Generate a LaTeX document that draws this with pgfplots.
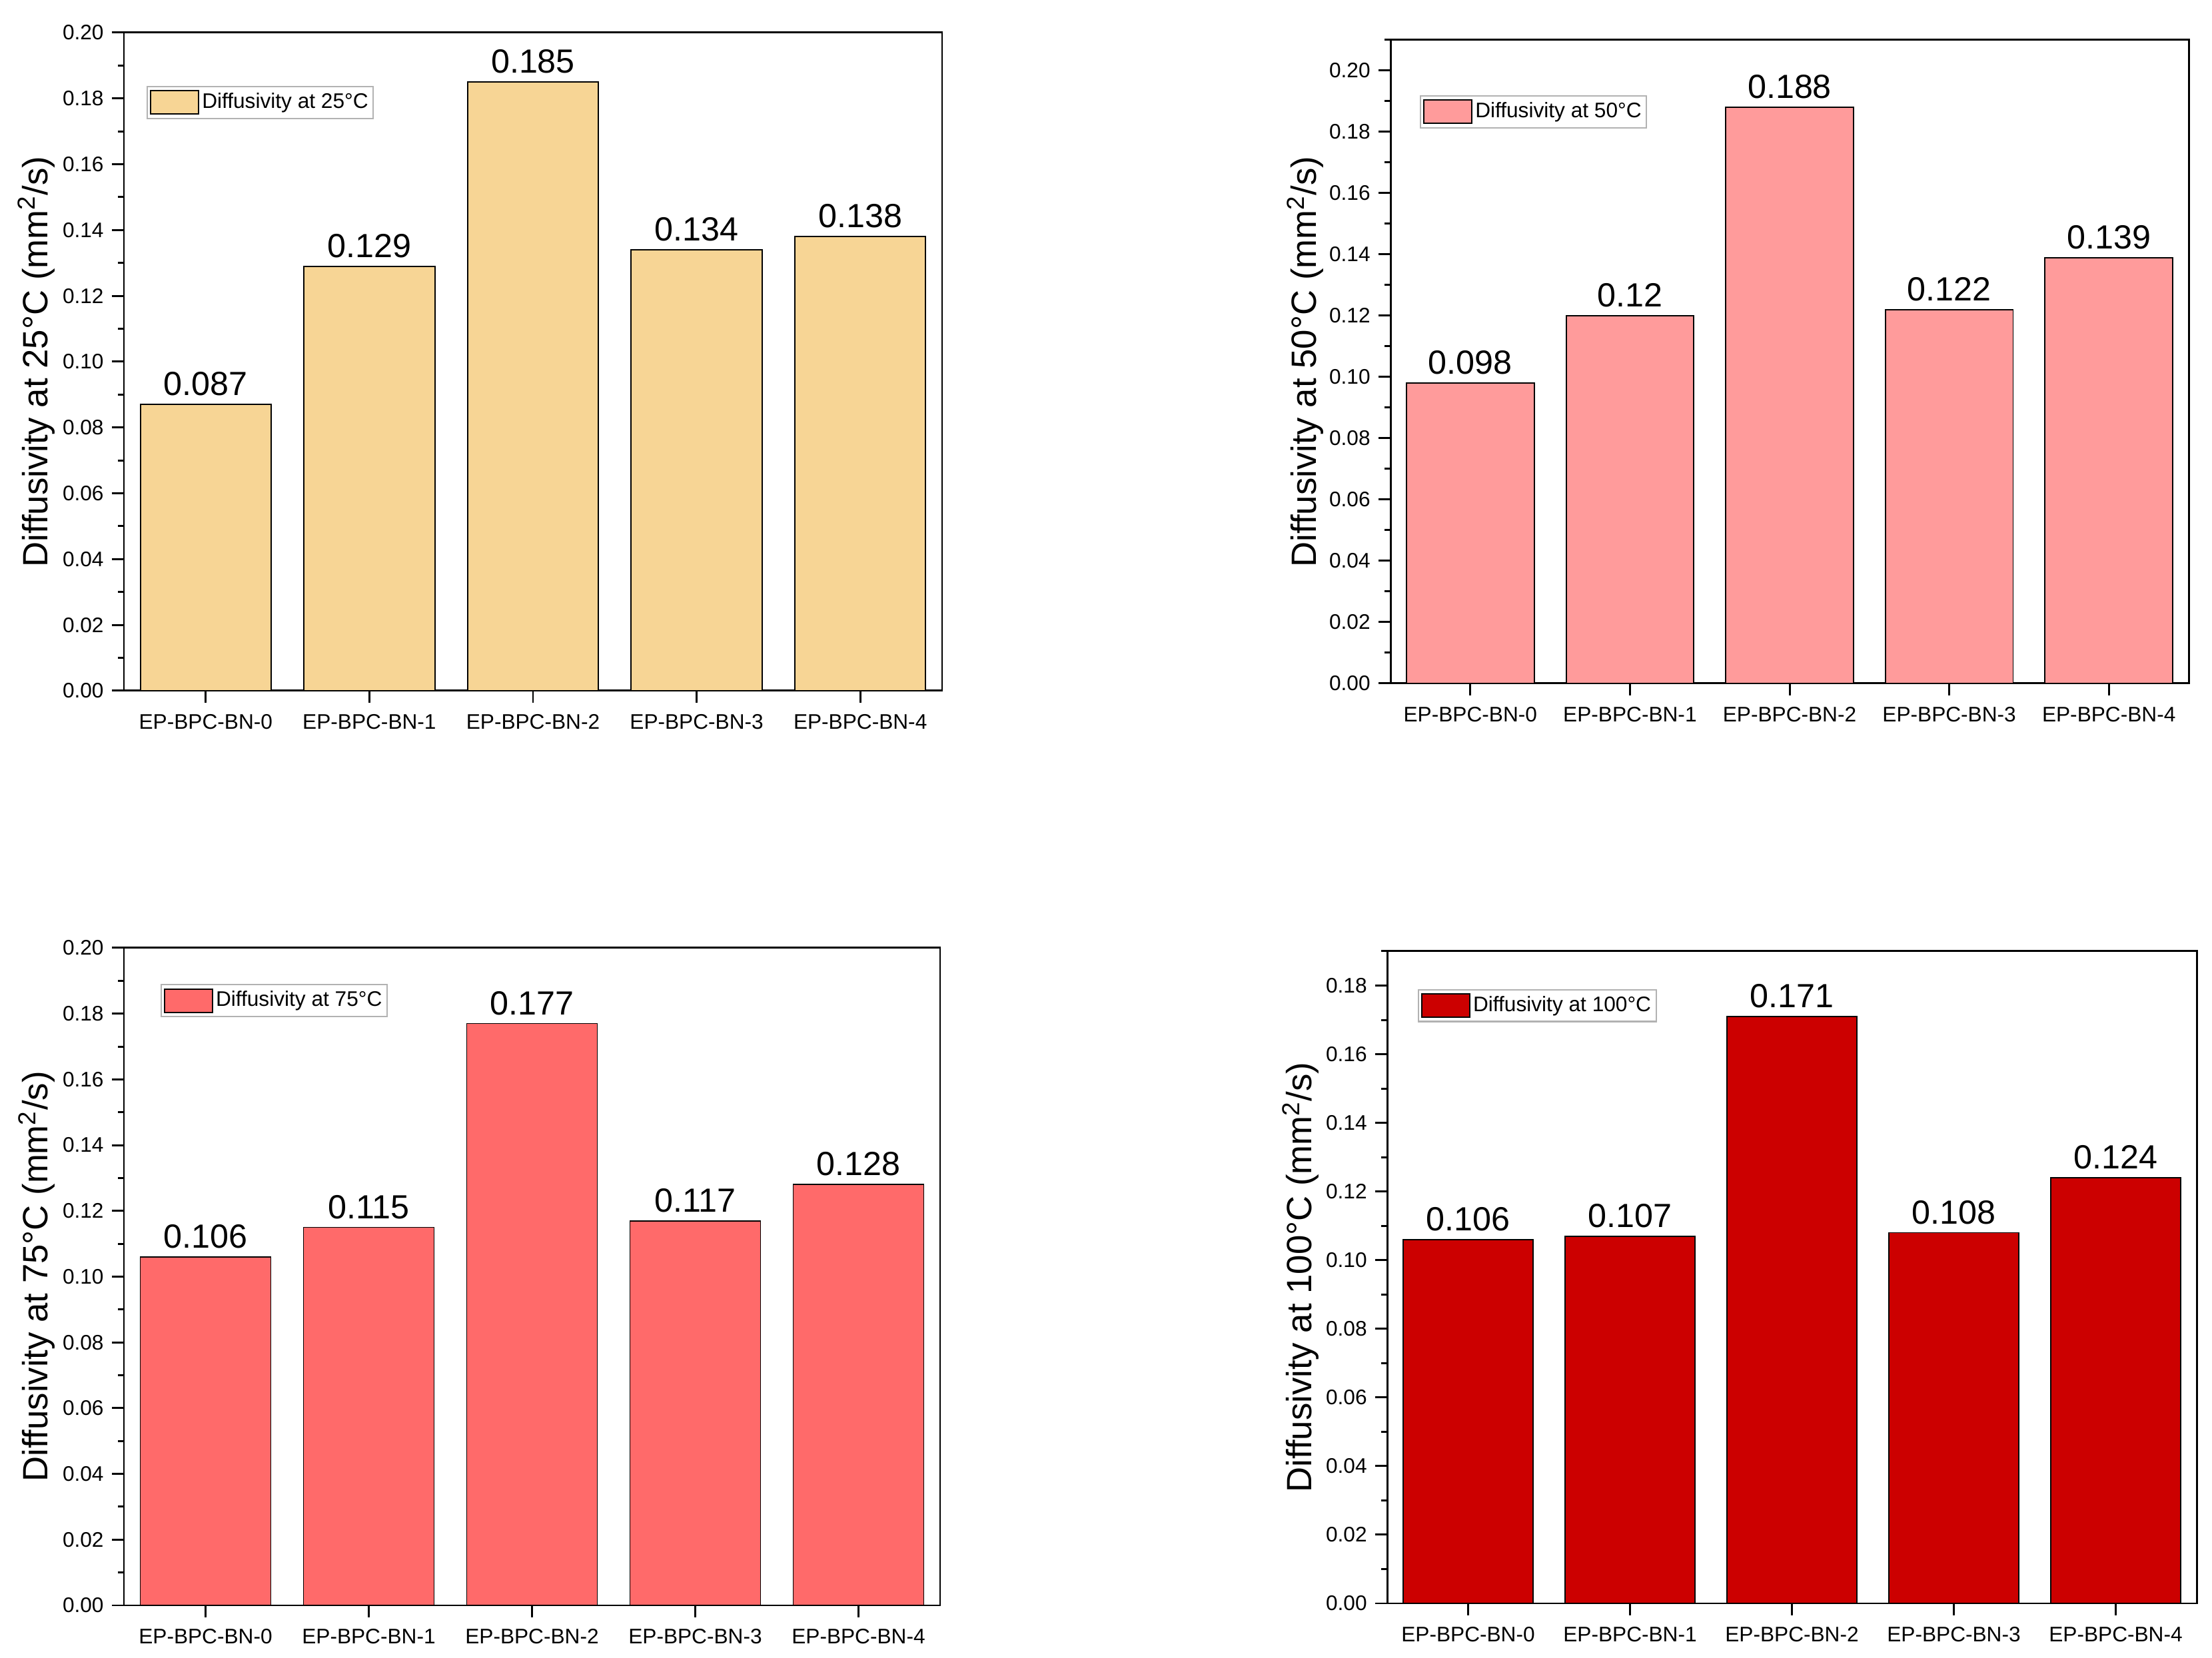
\documentclass[border=0pt]{standalone}
\usepackage{fontspec}
\setmainfont{Liberation Sans}
\usepackage{pgfplots}
\pgfplotsset{compat=1.18}

\definecolor{c25}{RGB}{247,213,149}
\definecolor{c50}{RGB}{255,155,155}
\definecolor{c75}{RGB}{255,106,106}
\definecolor{c100}{RGB}{204,0,0}

\pgfplotsset{
  diffbar/.style={
    scale only axis,
    ybar, bar width=0.8,
    xmin=-0.5, xmax=4.5, ymin=0,
    xtick={0,1,2,3,4},
    xticklabels={EP-BPC-BN-0,EP-BPC-BN-1,EP-BPC-BN-2,EP-BPC-BN-3,EP-BPC-BN-4},
    ytick distance=0.02,
    minor y tick num=1,
    xtick pos=left, ytick pos=left,
    tick align=outside,
    major tick length=1.8mm, minor tick length=0.9mm,
    axis line style={line width=0.85pt},
    every tick/.style={black, line width=0.85pt},
    tick label style={font=\fontsize{9}{10}\selectfont},
    xticklabel style={yshift=-0.5mm},
    yticklabel style={/pgf/number format/.cd, fixed, fixed zerofill, precision=2},
    /pgf/number format/assume math mode=true,
    nodes near coords={\pgfmathprintnumber[fixed,precision=3]{\pgfplotspointmeta}},
    nodes near coords style={font=\fontsize{14.3}{16}\selectfont, anchor=south, inner sep=0pt, yshift=1.2mm},
    ylabel style={at={(axis description cs:-0.107,0.5)}, anchor=center, font=\fontsize{15}{17}\selectfont},
    legend style={anchor=north west, draw=gray!60, line width=0.6pt,
      font=\fontsize{9}{10}\selectfont, inner xsep=1pt, inner ysep=1.5pt,
      nodes={inner sep=1.2pt}},
    legend cell align=left,
    legend image code/.code={\draw[#1, line width=0.6pt] (0mm,-1.75mm) rectangle (7.2mm,1.75mm);},
  },
  barstyle/.style={draw=black, line width=0.55pt},
}

\begin{document}
\begin{tikzpicture}
\path[use as bounding box] (0,0) rectangle (332mm,248.9mm);

% top left: 25 C
\begin{axis}[diffbar, at={(18.6mm,145.2mm)}, anchor=south west,
  width=122.8mm, height=98.8mm, ymax=0.20,
  legend style={at={(0.028,0.919)}},
  ylabel={Diffusivity at 25°C (mm\textsuperscript{2}/s)}]
\addplot[barstyle, fill=c25] coordinates {(0,0.087) (1,0.129) (2,0.185) (3,0.134) (4,0.138)};
\addlegendentry{Diffusivity at 25°C}
\end{axis}

% top right: 50 C
\begin{axis}[diffbar, at={(208.7mm,146.3mm)}, anchor=south west,
  width=119.8mm, height=96.6mm, ymax=0.21,
  legend style={at={(0.037,0.914)}},
  ylabel={Diffusivity at 50°C (mm\textsuperscript{2}/s)}]
\addplot[barstyle, fill=c50] coordinates {(0,0.098) (1,0.12) (2,0.188) (3,0.122) (4,0.139)};
\addlegendentry{Diffusivity at 50°C}
\end{axis}

% bottom left: 75 C
\begin{axis}[diffbar, at={(18.6mm,7.9mm)}, anchor=south west,
  width=122.5mm, height=98.7mm, ymax=0.20,
  legend style={at={(0.045,0.945)}},
  ylabel={Diffusivity at 75°C (mm\textsuperscript{2}/s)}]
\addplot[barstyle, fill=c75] coordinates {(0,0.106) (1,0.115) (2,0.177) (3,0.117) (4,0.128)};
\addlegendentry{Diffusivity at 75°C}
\end{axis}

% bottom right: 100 C
\begin{axis}[diffbar, at={(208.2mm,8.2mm)}, anchor=south west,
  width=121.5mm, height=97.9mm, ymax=0.19,
  legend style={at={(0.038,0.942)}},
  ylabel={Diffusivity at 100°C (mm\textsuperscript{2}/s)}]
\addplot[barstyle, fill=c100] coordinates {(0,0.106) (1,0.107) (2,0.171) (3,0.108) (4,0.124)};
\addlegendentry{Diffusivity at 100°C}
\end{axis}
\end{tikzpicture}
\end{document}
